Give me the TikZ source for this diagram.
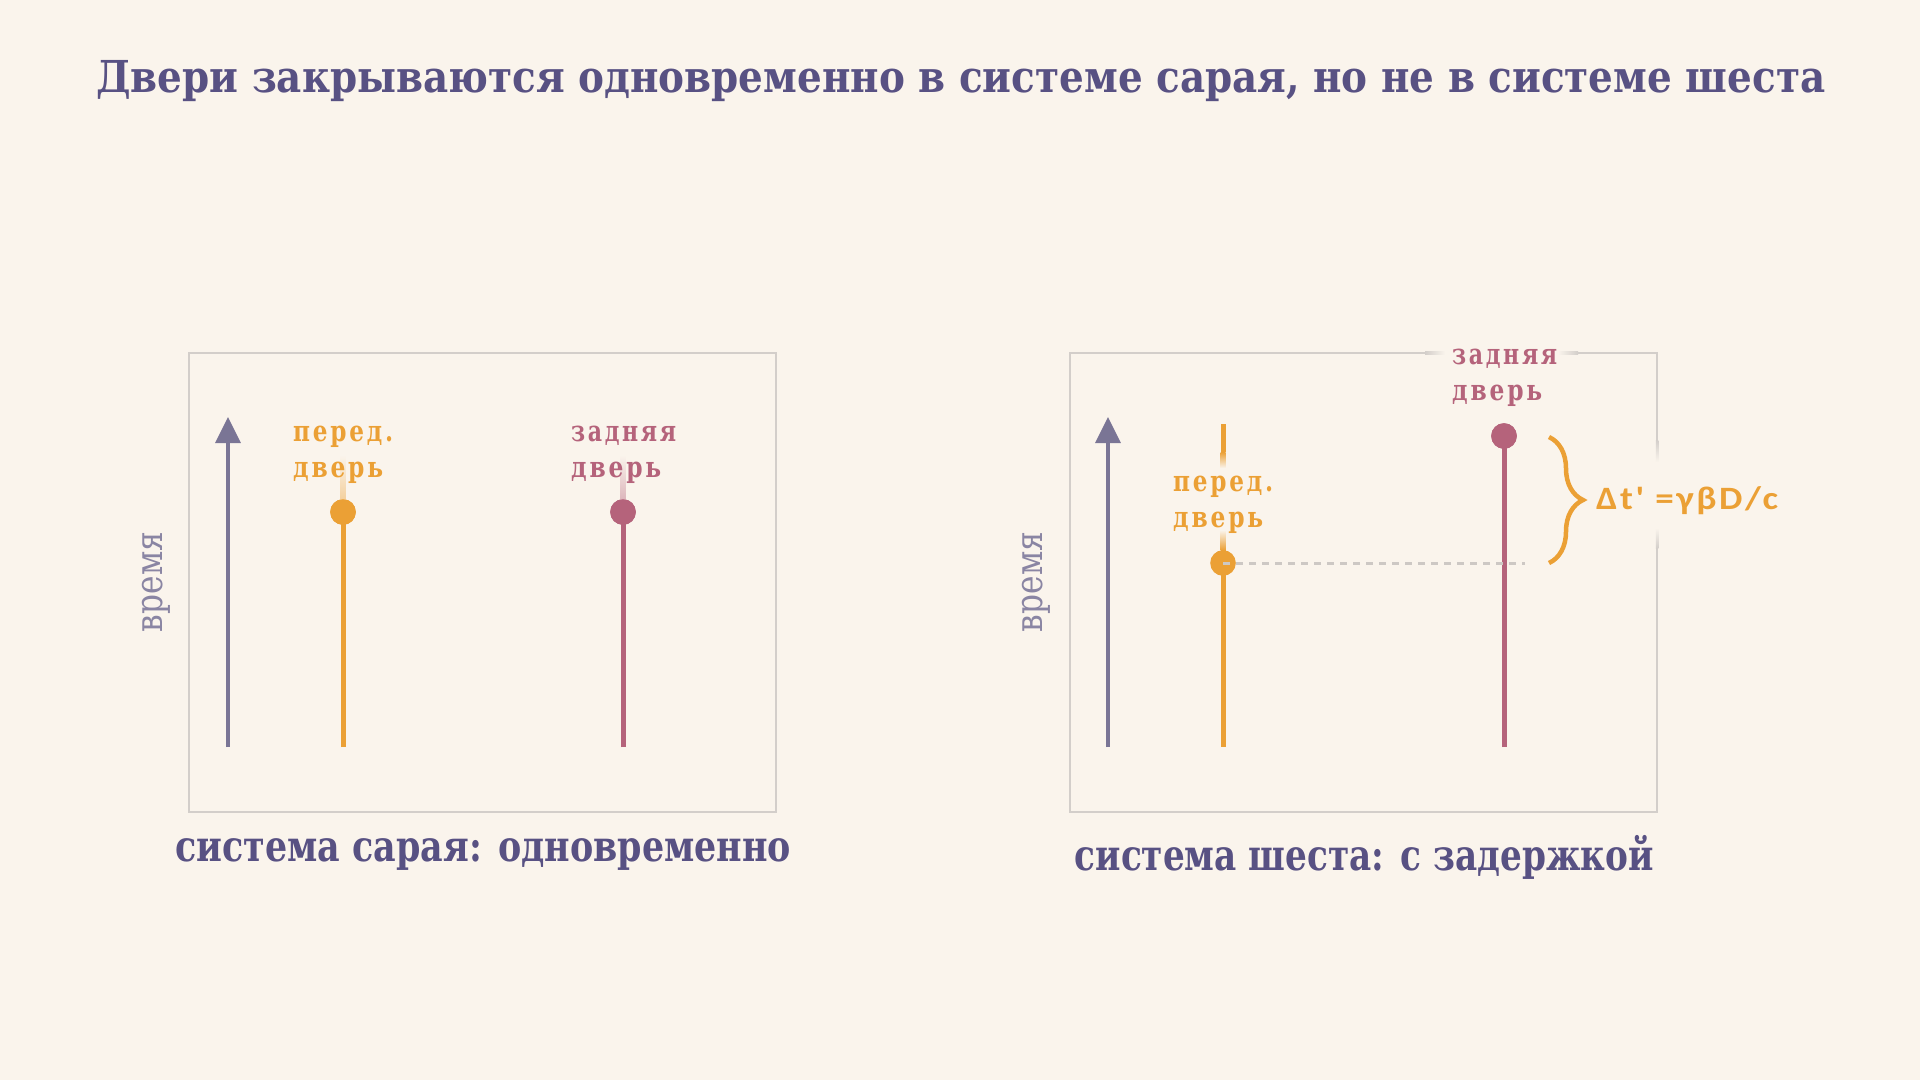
\documentclass[tikz,border=0pt]{standalone}
\usepackage{fontspec}
\usepackage{graphicx}
\setmainfont{DejaVu Serif}
\newfontfamily\lblfont{DejaVu Serif}[LetterSpace=12]
\newfontfamily\dtfont{Carlito}[LetterSpace=7]
\usetikzlibrary{arrows.meta,decorations.pathreplacing}
\definecolor{bgc}{HTML}{FAF4EC}
\definecolor{ctitle}{HTML}{585183}
\definecolor{caxis}{HTML}{7A7595}
\definecolor{ctime}{HTML}{8A85A3}
\definecolor{corange}{HTML}{EBA035}
\definecolor{cpink}{HTML}{B5637B}
\definecolor{cframe}{HTML}{D3CECA}
\definecolor{cdash}{HTML}{CDC8C4}
\tikzset{
  ttl/.style={anchor=base west, inner sep=0pt, text=ctitle, font=\fontsize{44pt}{44pt}\selectfont\bfseries},
  capt/.style={anchor=base west, inner sep=0pt, text=ctitle, font=\fontsize{43pt}{43pt}\selectfont\bfseries},
  lbl/.style={anchor=base west, inner sep=0pt, font=\lblfont\fontsize{29pt}{29pt}\selectfont\bfseries},
  timelbl/.style={rotate=90, inner sep=0pt, text=ctime, font=\fontsize{38pt}{38pt}\selectfont},
  frame/.style={draw=cframe, line width=2.5pt},
  axisline/.style={draw=caxis, line width=3.5pt, -{Triangle[length=26pt,width=25pt]}},
  oline/.style={draw=corange, line width=5pt},
  pline/.style={draw=cpink, line width=5pt},
  odot/.style={circle, fill=corange, minimum size=25.6pt, inner sep=0pt},
  pdot/.style={circle, fill=cpink, minimum size=25.6pt, inner sep=0pt},
  dashline/.style={draw=cdash, line width=3pt, dash pattern=on 7pt off 6pt},
  bracest/.style={draw=corange, line width=4.5pt, decorate, decoration={brace, amplitude=34pt}},
  dtlbl/.style={anchor=base west, inner sep=0pt, text=corange, font=\dtfont\fontsize{32.6pt}{32.6pt}\selectfont\bfseries}
}
\begin{document}
\begin{tikzpicture}[x=1pt, y=-1pt]
\fill[bgc] (0,0) rectangle (1920,1080);
\useasboundingbox (0,0) rectangle (1920,1080);

% title
\node[ttl] (title) at (96,92.7) {\resizebox{1729pt}{\height}{Двери закрываются одновременно в системе сарая, но не в системе шеста}};

% ---------- left panel ----------
\draw[frame] (189,353) rectangle (776,812);
\coordinate (axLb) at (228,747);
\coordinate (axLt) at (228,417);
\draw[axisline] (axLb) -- (axLt);
\node[timelbl] (timeL) at (156,582) {\resizebox{100pt}{\height}{время}};

\coordinate (oLb) at (343,747);
\coordinate (pLb) at (623,747);
\node[odot] (dLo) at (343,512) {};
\node[pdot] (dLp) at (623,512) {};
\draw[oline] (oLb) -- (dLo.center);
\draw[pline] (pLb) -- (dLp.center);
\shade[top color=bgc, bottom color=corange!45!bgc] (340.5,455) rectangle (345.5,502);
\shade[top color=bgc, bottom color=cpink!45!bgc] (620.5,455) rectangle (625.5,502);
\node[odot] at (dLo) {};
\node[pdot] at (dLp) {};

\node[lbl, text=corange] (lLo1) at (293,441) {\resizebox{100pt}{\height}{перед.}};
\node[lbl, text=corange] (lLo2) at (293,477) {\resizebox{90pt}{\height}{дверь}};
\node[lbl, text=cpink] (lLp1) at (571,441) {\resizebox{105pt}{\height}{задняя}};
\node[lbl, text=cpink] (lLp2) at (571,477) {\resizebox{90pt}{\height}{дверь}};

\node[capt] (capL) at (175,861.7) {\resizebox{616pt}{\height}{система сарая: одновременно}};

% ---------- right panel ----------
% frame with soft gaps behind the labels
\draw[frame] (1425,353) -- (1070,353) -- (1070,812) -- (1657,812) -- (1657,548);
\draw[frame] (1578,353) -- (1657,353) -- (1657,440);
\shade[left color=cframe, right color=bgc] (1425,351.75) rectangle (1445,354.25);
\shade[left color=bgc, right color=cframe] (1558,351.75) rectangle (1578,354.25);
\shade[top color=cframe, bottom color=bgc] (1655.75,440) rectangle (1658.25,462);
\shade[top color=bgc, bottom color=cframe] (1655.75,528) rectangle (1658.25,548);

\coordinate (axRb) at (1108,747);
\coordinate (axRt) at (1108,417);
\draw[axisline] (axRb) -- (axRt);
\node[timelbl] (timeR) at (1036,582) {\resizebox{100pt}{\height}{время}};

% front door world line, fading behind its label
\coordinate (oRt) at (1223,424);
\coordinate (oRf1) at (1223,452);
\coordinate (oRf2) at (1223,550);
\coordinate (oRb) at (1223,747);
\draw[oline] (oRt) -- (oRf1);
\shade[top color=corange, bottom color=bgc] (1220.5,452) rectangle (1225.5,468);
\shade[top color=bgc, bottom color=corange] (1220.5,530) rectangle (1225.5,550);
\draw[oline] (oRf2) -- (oRb);

\coordinate (pRb) at (1504,747);
\node[pdot] (dRp) at (1504,436) {};
\draw[pline] (pRb) -- (dRp.center);
\node[pdot] at (dRp) {};

\node[lbl, text=corange] (lRo1) at (1173,491) {\resizebox{100pt}{\height}{перед.}};
\node[lbl, text=corange] (lRo2) at (1173,527) {\resizebox{90pt}{\height}{дверь}};
\node[lbl, text=cpink] (lRp1) at (1452,364) {\resizebox{105pt}{\height}{задняя}};
\node[lbl, text=cpink] (lRp2) at (1452,400) {\resizebox{90pt}{\height}{дверь}};

\node[odot] (dRo) at (1223,563) {};
\coordinate (dashEnd) at (1525,563);
\draw[dashline] (dRo.center) -- (dashEnd);

\coordinate (brT) at (1549,437);
\coordinate (brB) at (1549,563);
\draw[bracest] (brT) -- (brB);
\node[dtlbl] (dt) at (1596,509) {\resizebox{182pt}{\height}{Δt' =γβD/c}};

\node[capt] (capR) at (1074.5,870) {\resizebox{579pt}{\height}{система шеста: с задержкой}};
\end{tikzpicture}
\end{document}
